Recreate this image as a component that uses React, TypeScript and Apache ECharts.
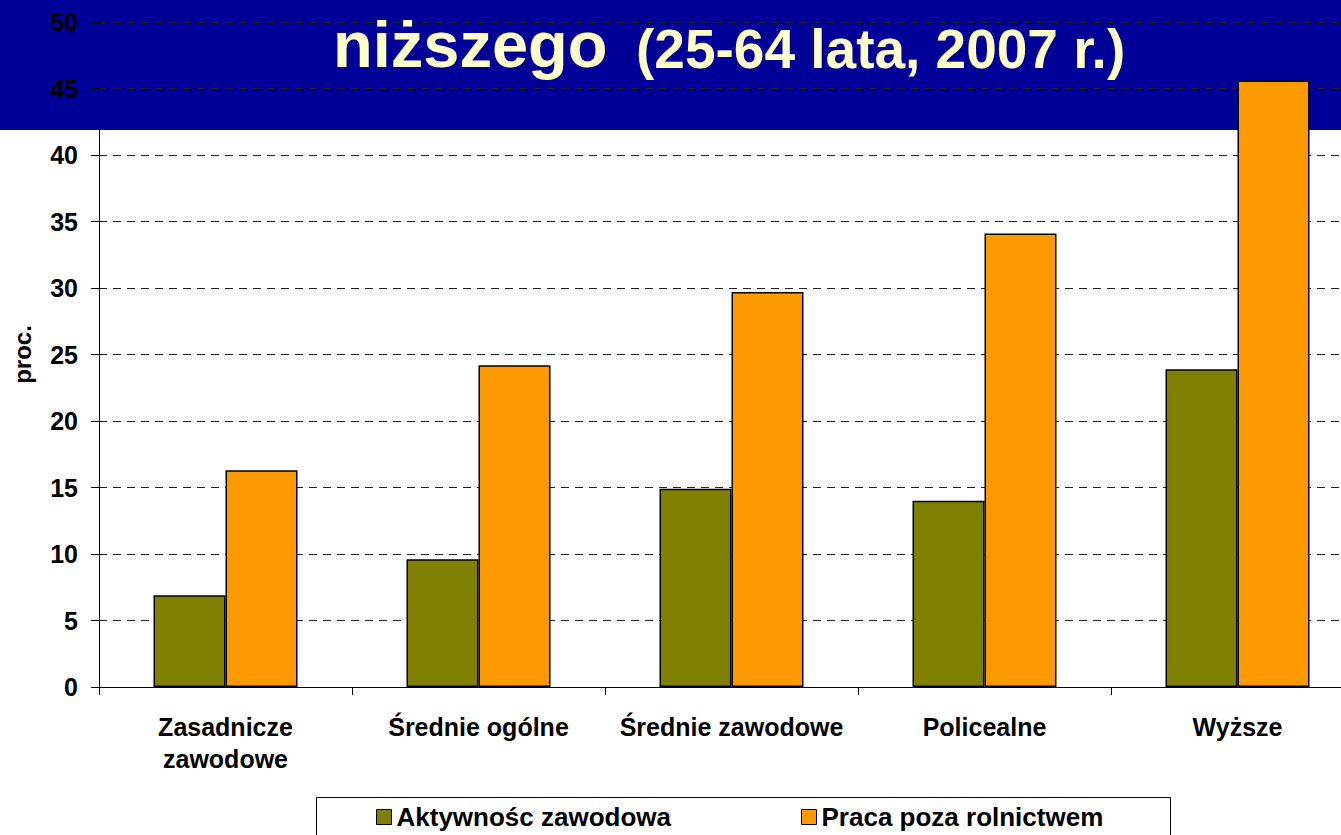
import React, { useEffect, useRef } from "react";
import * as echarts from "echarts";

const categories = [
  "Zasadnicze\nzawodowe",
  "Średnie ogólne",
  "Średnie zawodowe",
  "Policealne",
  "Wyższe",
];
const seriesNames = ["Aktywnośc zawodowa", "Praca poza rolnictwem"];
const aktywnosc = [6.9, 9.6, 14.9, 14.0, 23.9];
const praca = [16.3, 24.2, 29.7, 34.1, 45.6];
const titleMain = "niższego";
const titleSub = "(25-64 lata, 2007 r.)";
const yAxisName = "proc.";

const FONT = '"Liberation Sans", Arial, sans-serif';

export default function App() {
  const ref = useRef<HTMLDivElement>(null);
  useEffect(() => {
    if (!ref.current) return;
    const chart = echarts.init(ref.current, undefined, { renderer: "svg" });
    chart.setOption({
      animation: false,
      backgroundColor: "#ffffff",
      textStyle: { fontFamily: FONT },
      grid: { left: 99, right: 0, top: 22, bottom: 148, containLabel: false },
      graphic: [
        {
          type: "rect",
          z: -10,
          shape: { x: 0, y: 0, width: 1341, height: 130 },
          style: { fill: "#000099" },
        },
        {
          type: "text",
          z: 100,
          x: 333,
          y: 44,
          style: {
            text: titleMain,
            fill: "#FFFFCC",
            font: `bold 65px ${FONT}`,
            verticalAlign: "middle",
          },
        },
        {
          type: "text",
          z: 100,
          x: 636,
          y: 49,
          style: {
            text: titleSub,
            fill: "#FFFFCC",
            font: `bold 55px ${FONT}`,
            verticalAlign: "middle",
          },
        },
        {
          type: "rect",
          z: -5,
          shape: { x: 316.5, y: 797.5, width: 854, height: 60 },
          style: { fill: "#ffffff", stroke: "#000000", lineWidth: 1 },
        },
      ],
      legend: {
        left: 376,
        top: 804,
        padding: 0,
        itemGap: 130,
        itemWidth: 15,
        itemHeight: 15,
        icon: "rect",
        textStyle: { fontFamily: FONT, fontWeight: "bold", fontSize: 26, color: "#000" },
        itemStyle: { borderColor: "#000", borderWidth: 1 },
        data: seriesNames,
      },
      xAxis: {
        type: "category",
        data: categories,
        boundaryGap: true,
        axisLine: { lineStyle: { color: "#000", width: 1 } },
        axisTick: { show: true, alignWithLabel: false, length: 8, lineStyle: { color: "#000" } },
        axisLabel: {
          interval: 0,
          margin: 24,
          color: "#000",
          fontFamily: FONT,
          fontWeight: "bold",
          fontSize: 25,
          lineHeight: 32,
        },
      },
      yAxis: {
        type: "value",
        min: 0,
        max: 50,
        interval: 5,
        name: yAxisName,
        nameLocation: "middle",
        nameRotate: 90,
        nameGap: 65,
        nameTextStyle: { fontFamily: FONT, fontWeight: "bold", fontSize: 24, color: "#000" },
        axisLine: { show: true, lineStyle: { color: "#000", width: 1 } },
        axisTick: { show: true, length: 8, lineStyle: { color: "#000" } },
        axisLabel: {
          margin: 21,
          color: "#000",
          fontFamily: FONT,
          fontWeight: "bold",
          fontSize: 25,
        },
        splitLine: {
          show: true,
          lineStyle: { color: "#222", width: 1, type: [8, 6] },
        },
      },
      series: [
        {
          name: seriesNames[0],
          type: "bar",
          data: aktywnosc,
          barWidth: 72,
          barGap: "0%",
          itemStyle: { color: "#808000", borderColor: "#000", borderWidth: 1.5 },
        },
        {
          name: seriesNames[1],
          type: "bar",
          data: praca,
          barWidth: 72,
          barGap: "0%",
          itemStyle: { color: "#FF9900", borderColor: "#000", borderWidth: 1.5 },
        },
      ],
    });
    return () => chart.dispose();
  }, []);
  return (
    <div
      style={{
        position: "absolute",
        left: 0,
        top: 0,
        width: 1341,
        height: 835,
        overflow: "hidden",
      }}
    >
      <div ref={ref} style={{ width: 1364, height: 835 }} />
    </div>
  );
}
